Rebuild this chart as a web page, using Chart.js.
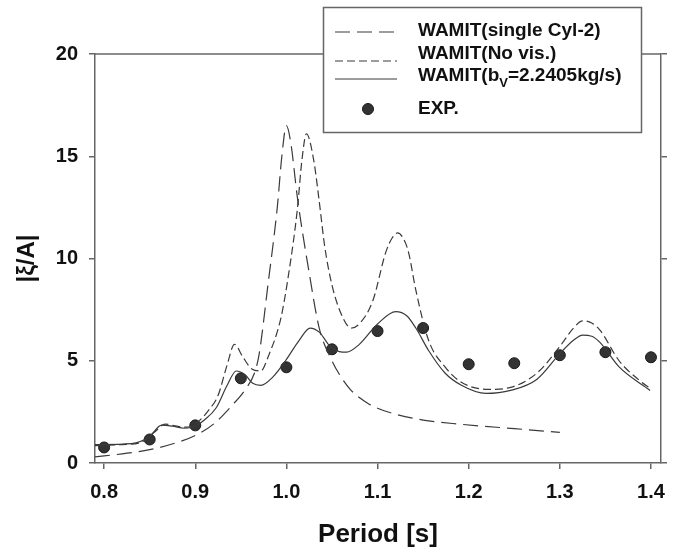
<!DOCTYPE html>
<html lang="en">
<head>
<meta charset="UTF-8" />
<title>Heave response - WAMIT vs EXP</title>
<script src="https://cdn.jsdelivr.net/npm/chart.js"></script>
<style>
    html, body {
        margin: 0;
        padding: 0;
        background: #fff;
    }
    #wrap {
        width: 676px;
        height: 554px;
    }
</style>
</head>
<body>
<div id="wrap"><canvas id="raoChart" width="676" height="554"></canvas></div>
<script>
    // WAMIT single cylinder (Cyl-2)
    const cylPeriod = [0.79, 0.82, 0.85, 0.88, 0.90, 0.92, 0.94, 0.955, 0.965, 0.97, 0.98, 0.99, 0.995, 1.0, 1.005, 1.012, 1.025, 1.036, 1.05, 1.06, 1.07, 1.08, 1.09, 1.10, 1.12, 1.15, 1.19, 1.25, 1.30];
    const cylAmp    = [0.30, 0.45, 0.65, 1.0, 1.35, 1.9, 2.8, 3.6, 4.4, 5.3, 8.8, 12.5, 15.0, 16.5, 15.6, 13.0, 9.3, 6.6, 5.0, 4.2, 3.6, 3.2, 2.9, 2.68, 2.38, 2.1, 1.9, 1.68, 1.5];

    // WAMIT, no viscous damping
    const noVisPeriod = [0.79, 0.82, 0.84, 0.855, 0.867, 0.88, 0.89, 0.90, 0.915, 0.925, 0.935, 0.943, 0.952, 0.962, 0.972, 0.98, 0.994, 1.003, 1.012, 1.017, 1.022, 1.03, 1.036, 1.042, 1.05, 1.06, 1.071, 1.08, 1.095, 1.109, 1.116, 1.122, 1.128, 1.134, 1.142, 1.156, 1.174, 1.192, 1.221, 1.246, 1.275, 1.30, 1.315, 1.325, 1.335, 1.344, 1.365, 1.387, 1.399];
    const noVisAmp    = [0.85, 0.9, 1.0, 1.5, 1.9, 1.8, 1.75, 1.9, 2.6, 3.3, 4.8, 5.8, 5.2, 4.6, 4.5, 5.2, 7.1, 9.4, 12.4, 14.8, 16.1, 14.8, 12.8, 10.6, 8.7, 7.3, 6.6, 6.8, 7.96, 10.3, 11.0, 11.25, 11.0, 10.3, 8.45, 6.0, 4.7, 3.95, 3.6, 3.7, 4.4, 5.7, 6.6, 6.95, 6.85, 6.5, 5.0, 4.05, 3.65];

    // WAMIT with viscous damping b_V = 2.2405 kg/s
    const viscPeriod = [0.79, 0.83, 0.85, 0.863, 0.875, 0.888, 0.90, 0.91, 0.923, 0.935, 0.945, 0.955, 0.963, 0.972, 0.985, 0.999, 1.014, 1.026, 1.036, 1.048, 1.058, 1.066, 1.08, 1.10, 1.12, 1.132, 1.142, 1.156, 1.174, 1.192, 1.219, 1.246, 1.275, 1.30, 1.315, 1.325, 1.335, 1.344, 1.365, 1.399];
    const viscAmp    = [0.9, 0.95, 1.3, 1.85, 1.8, 1.7, 1.8, 2.1, 2.7, 3.8, 4.5, 4.3, 3.9, 3.8, 4.2, 5.0, 6.0, 6.6, 6.4, 5.7, 5.45, 5.42, 5.8, 6.8, 7.4, 7.2, 6.6, 5.5, 4.4, 3.8, 3.4, 3.55, 4.1, 5.35, 6.0, 6.25, 6.2, 5.9, 4.7, 3.55];

    // measured
    const expPeriod = [0.80, 0.85, 0.90, 0.95, 1.00, 1.05, 1.10, 1.15, 1.20, 1.25, 1.30, 1.35, 1.40];
    const expAmp    = [0.76, 1.15, 1.84, 4.14, 4.68, 5.56, 6.45, 6.6, 4.83, 4.88, 5.27, 5.42, 5.17];

    const periodTicks = [0.8, 0.9, 1.0, 1.1, 1.2, 1.3, 1.4];

    const FONT = "'Liberation Sans', Arial, Helvetica, sans-serif";
    const INK = '#3a3a3a';
    const AXIS = '#666';

    function puntos(xs, ys) {
        return xs.map((x, i) => ({ x: x, y: ys[i] }));
    }

    function curva(label, xs, ys, dash) {
        return {
            label: label,
            data: puntos(xs, ys),
            showLine: true,
            borderColor: INK,
            borderWidth: 1.2,
            borderDash: dash,
            pointRadius: 0,
            cubicInterpolationMode: 'monotone',
            fill: false
        };
    }

    // boxed legend drawn over the top frame line
    const leyendaCaja = {
        id: 'leyendaCaja',
        afterDraw(chart) {
            const ctx = chart.ctx;
            const area = chart.chartArea;
            const ds = chart.data.datasets;

            ctx.save();
            // top frame
            ctx.strokeStyle = AXIS;
            ctx.lineWidth = 1.5;
            ctx.beginPath();
            ctx.moveTo(area.left, area.top);
            ctx.lineTo(area.right, area.top);
            ctx.stroke();

            // box
            ctx.fillStyle = '#fff';
            ctx.fillRect(323, 7, 318, 125);
            ctx.strokeRect(323.5, 7.5, 318, 125);

            const x0 = 335, x1 = 397, tx = 418;
            const filas = [
                { ds: 0, ly: 32, ty: 31 },
                { ds: 1, ly: 61, ty: 54 },
                { ds: 2, ly: 79, ty: 76 }
            ];
            filas.forEach(f => {
                const d = ds[f.ds];
                ctx.strokeStyle = d.borderColor;
                ctx.lineWidth = d.borderWidth;
                ctx.setLineDash(d.borderDash || []);
                ctx.beginPath();
                ctx.moveTo(x0, f.ly);
                ctx.lineTo(x1, f.ly);
                ctx.stroke();
            });
            ctx.setLineDash([]);

            ctx.fillStyle = '#111';
            ctx.textBaseline = 'middle';
            ctx.textAlign = 'left';
            ctx.font = 'bold 19px ' + FONT;
            ctx.fillText('WAMIT(single Cyl-2)', tx, filas[0].ty);
            ctx.fillText('WAMIT(No vis.)', tx, filas[1].ty);

            // WAMIT(b_V=2.2405kg/s) with subscript
            let x = tx;
            ctx.fillText('WAMIT(b', x, filas[2].ty);
            x += ctx.measureText('WAMIT(b').width;
            ctx.font = 'bold 13px ' + FONT;
            ctx.fillText('V', x, filas[2].ty + 7);
            x += ctx.measureText('V').width;
            ctx.font = 'bold 19px ' + FONT;
            ctx.fillText('=2.2405kg/s)', x, filas[2].ty);

            // EXP. marker
            const pe = ds[3];
            ctx.beginPath();
            ctx.arc(368, 109, pe.pointRadius, 0, Math.PI * 2);
            ctx.fillStyle = pe.backgroundColor;
            ctx.fill();
            ctx.lineWidth = pe.borderWidth;
            ctx.strokeStyle = pe.borderColor;
            ctx.stroke();
            ctx.fillStyle = '#111';
            ctx.fillText('EXP.', tx, 109);
            ctx.restore();
        }
    };

    const ejeComun = {
        grid: { drawOnChartArea: false, drawTicks: true, tickLength: 6, color: AXIS, lineWidth: 1.5 },
        border: { display: true, color: AXIS, width: 1.5 }
    };

    new Chart(document.getElementById('raoChart'), {
        type: 'scatter',
        data: {
            datasets: [
                curva('WAMIT(single Cyl-2)', cylPeriod, cylAmp, [15, 7]),
                curva('WAMIT(No vis.)', noVisPeriod, noVisAmp, [8, 4]),
                curva('WAMIT(bV=2.2405kg/s)', viscPeriod, viscAmp, []),
                {
                    label: 'EXP.',
                    data: puntos(expPeriod, expAmp),
                    showLine: false,
                    pointRadius: 5.5,
                    backgroundColor: '#333',
                    borderColor: '#1a1a1a',
                    borderWidth: 1
                }
            ]
        },
        options: {
            responsive: false,
            animation: false,
            layout: { padding: { top: 54, left: 0, right: 0, bottom: 0 } },
            plugins: {
                legend: { display: false },
                tooltip: { enabled: false }
            },
            scales: {
                x: {
                    type: 'linear',
                    position: 'bottom',
                    min: 0.79,
                    max: 1.411,
                    afterBuildTicks: axis => { axis.ticks = periodTicks.map(v => ({ value: v })); },
                    afterFit: s => { s.height = 91; },
                    ticks: {
                        callback: v => Number(v).toFixed(1),
                        font: { family: FONT, size: 20, weight: 'bold' },
                        color: '#111',
                        padding: 11
                    },
                    title: {
                        display: true,
                        text: 'Period [s]',
                        font: { family: FONT, size: 26, weight: 'bold' },
                        color: '#111',
                        padding: { top: 0, bottom: 4 }
                    },
                    ...ejeComun
                },
                y: {
                    position: 'left',
                    min: 0,
                    max: 20,
                    afterFit: s => { s.width = 95; },
                    ticks: {
                        stepSize: 5,
                        font: { family: FONT, size: 20, weight: 'bold' },
                        color: '#111',
                        padding: 11
                    },
                    title: {
                        display: true,
                        text: '|ξ/A|',
                        font: { family: FONT, size: 24, weight: 'bold' },
                        color: '#111',
                        padding: { top: 13, bottom: 0 }
                    },
                    ...ejeComun
                },
                y2: {
                    position: 'right',
                    min: 0,
                    max: 20,
                    afterFit: s => { s.width = 7; },
                    ticks: { stepSize: 5, display: false },
                    ...ejeComun
                }
            }
        },
        plugins: [leyendaCaja]
    });
</script>
</body>
</html>
